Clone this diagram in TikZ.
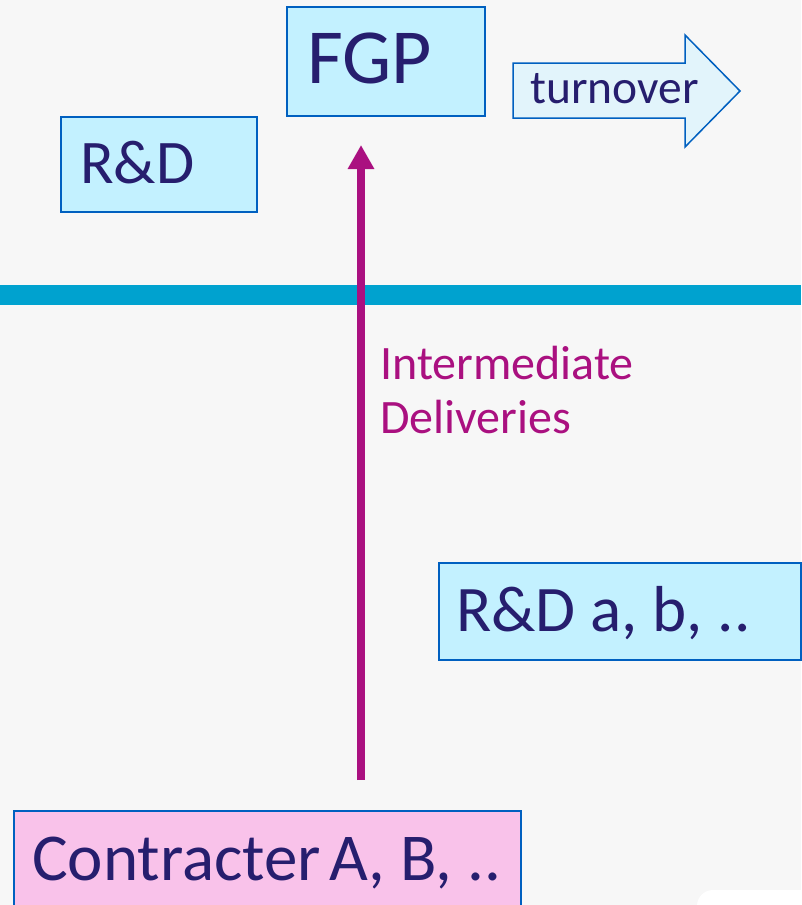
\documentclass[tikz,border=0pt]{standalone}
\usepackage{fontspec}
\setmainfont{Carlito}
\usetikzlibrary{arrows.meta}
\definecolor{bgcol}{HTML}{F7F7F7}
\definecolor{boxfill}{HTML}{C3F1FF}
\definecolor{boxline}{HTML}{0060C0}
\definecolor{arrowfill}{HTML}{E2F4FB}
\definecolor{inkcol}{HTML}{261E6E}
\definecolor{flowcol}{HTML}{AA1080}
\definecolor{barcol}{HTML}{00A2CF}
\definecolor{pinkfill}{HTML}{F9C2EA}
\tikzset{
  unitbox/.style={draw=boxline, line width=2pt, fill=boxfill, inner sep=0pt,
    anchor=north west, minimum width=#1},
  label/.style={anchor=base west, inner sep=0pt, text=inkcol, font=\fontsize{#1}{#1}\selectfont},
  flowtext/.style={anchor=base west, inner sep=0pt, text=flowcol,
    font=\fontsize{48}{54}\selectfont, align=left},
}
\begin{document}
\begin{tikzpicture}[x=1pt,y=-1pt]
  % canvas
  \fill[bgcol] (0,0) rectangle (801,905);
  \useasboundingbox (0,0) rectangle (801,905);
  % corner of a white panel at the lower right
  \fill[white, rounded corners=16pt] (697,920) -- (697,890) -- (820,890) -- (820,920) -- cycle;

  % separating band
  \fill[barcol] (0,285) rectangle (801,305);

  % boxes
  \node[unitbox=198pt, minimum height=109pt] (fgp) at (286,6) {};
  \node[unitbox=196pt, minimum height=95pt] (rd) at (60,116) {};
  \node[unitbox=362pt, minimum height=97pt] (rdab) at (438,562) {};
  \node[unitbox=507pt, minimum height=110pt, fill=pinkfill] (contr) at (13,810) {};

  % turnover arrow
  \filldraw[draw=boxline, fill=arrowfill, line width=1.5pt, line join=miter]
    (513,63) -- (685,63) -- (685,35) -- (740,91) -- (685,147) -- (685,118) -- (513,118) -- cycle;

  % box texts
  \node[label=78] (fgpT) at (307,83) {FGP};
  \node[label=62] (rdT) at (80,183) {R\&D};
  \node[label=47.5] (turnT) at (530,103) {turnover};
  \node[label=65] (rdabT) at (456,631) {R\&D a, b, ..};
  \node[label=67] (contrT) at (32,880) {Contracter\hspace{0.12em}A, B, ..};

  % intermediate deliveries flow
  \coordinate (flowStart) at (361,780);
  \coordinate (flowEnd) at (361,145);
  \draw[flowcol, line width=8pt, -{Triangle[width=25pt,length=24pt]}] (flowStart) -- (flowEnd);
  \node[flowtext] (flowT) at (380,433) {Intermediate\\Deliveries};
\end{tikzpicture}
\end{document}
